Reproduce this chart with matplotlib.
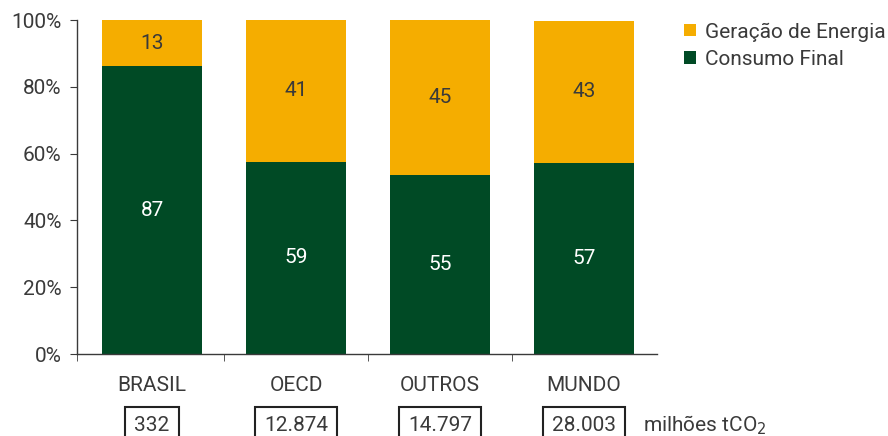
import numpy as np
import matplotlib.pyplot as plt

plt.rcParams['font.family'] = ['Roboto', 'DejaVu Sans']

# dados
regioes = ['BRASIL', 'OECD', 'OUTROS', 'MUNDO']
consumo_final = [86.2, 57.5, 53.6, 57.2]      # % (altura das barras)
geracao_energia = [13.8, 42.5, 46.4, 42.5]
rotulo_consumo = ['87', '59', '55', '57']
rotulo_geracao = ['13', '41', '45', '43']
emissoes = ['332', '12.874', '14.797', '28.003']   # milhões tCO2

verde = '#004A25'
amarelo = '#F5AD00'
cinza = '#3a3a3a'
fs = 15

fig = plt.figure(figsize=(8.88, 4.36), dpi=100)
ax = fig.add_axes([77 / 888, 82 / 436, 580 / 888, 334 / 436])

x = np.arange(len(regioes))
w = 0.70
ax.bar(x, consumo_final, w, color=verde, label='Consumo Final')
ax.bar(x, geracao_energia, w, bottom=consumo_final, color=amarelo,
       label='Geração de Energia')

for i in range(len(regioes)):
    ax.text(x[i], consumo_final[i] / 2, rotulo_consumo[i], ha='center',
            va='center', fontsize=fs, color='white')
    ax.text(x[i], consumo_final[i] + geracao_energia[i] / 2, rotulo_geracao[i],
            ha='center', va='center', fontsize=fs, color=cinza)

ax.set_xlim(-0.521, 3.507)
ax.set_ylim(0, 100)
ax.set_yticks(np.arange(0, 101, 20))
ax.set_yticklabels(['%d%%' % v for v in range(0, 101, 20)])
ax.set_xticks(x)
ax.set_xticklabels(regioes)
ax.set_xticks([-0.521, 0.5, 1.5, 2.5], minor=True)
ax.tick_params(axis='x', which='major', length=0, pad=16, labelsize=fs,
               labelcolor=cinza)
ax.tick_params(axis='x', which='minor', length=5, direction='out',
               color=cinza)
ax.tick_params(axis='y', length=5, pad=6, labelsize=fs, labelcolor=cinza,
               color=cinza)
for s in ['top', 'right']:
    ax.spines[s].set_visible(False)
for s in ['left', 'bottom']:
    ax.spines[s].set_color(cinza)
    ax.spines[s].set_linewidth(1.0)

# caixas com emissões
for i in range(len(regioes)):
    ax.text(x[i], -21.4, emissoes[i], ha='center', va='center', fontsize=fs,
            color=cinza, clip_on=False,
            bbox=dict(boxstyle='square,pad=0.45', fc='white', ec='#222222',
                      lw=1.5))
ax.text(643 / 888, 11 / 436, 'milhões tCO$_2$', transform=fig.transFigure,
        ha='left', va='center', fontsize=fs, color=cinza)

handles, labels = ax.get_legend_handles_labels()
leg = fig.legend(handles[::-1], labels[::-1], loc='upper left',
                 bbox_to_anchor=(676 / 888, 1 - 14 / 436), frameon=False,
                 fontsize=fs, handlelength=0.55, handleheight=0.55,
                 handletextpad=0.45, labelspacing=0.4, borderaxespad=0)
for t in leg.get_texts():
    t.set_color(cinza)

fig.savefig('out.png', dpi=100)
